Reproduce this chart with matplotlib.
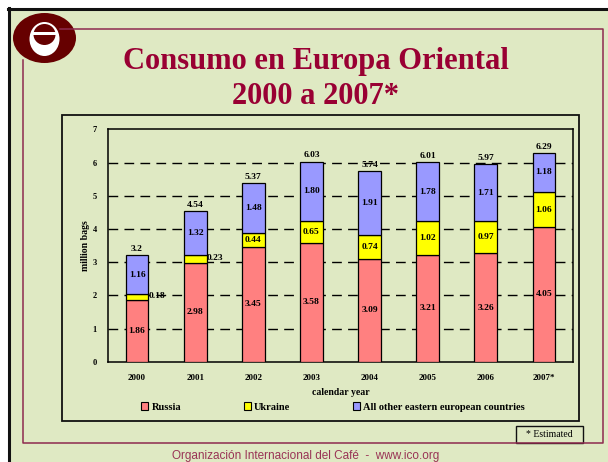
import numpy as np
import matplotlib
matplotlib.use("Agg")
import matplotlib.pyplot as plt
from matplotlib.patches import Rectangle, Ellipse

# data (million bags)
years = ["2000", "2001", "2002", "2003", "2004", "2005", "2006", "2007*"]
russia = [1.86, 2.98, 3.45, 3.58, 3.09, 3.21, 3.26, 4.05]
ukraine = [0.18, 0.23, 0.44, 0.65, 0.74, 1.02, 0.97, 1.06]
others = [1.16, 1.32, 1.48, 1.80, 1.91, 1.78, 1.71, 1.18]
totals = [3.2, 4.54, 5.37, 6.03, 5.74, 6.01, 5.97, 6.29]
series_names = ["Russia", "Ukraine", "All other eastern european countries"]

W, H = 608, 462
bg = "#DFE9C3"
maroon = "#8E2A4E"
serif = "Liberation Serif"

plt.rcParams["font.family"] = serif

fig = plt.figure(figsize=(W / 100, H / 100), dpi=100, facecolor="white")

# overlay in pixel coords for the slide decoration
deco = fig.add_axes([0, 0, 1, 1], zorder=0)
deco.set_xlim(0, W)
deco.set_ylim(H, 0)
deco.axis("off")

deco.add_patch(Rectangle((8, 8), W - 8, H - 8, facecolor=bg, edgecolor="none"))
deco.plot([9, 9], [8, H], color="#111111", lw=2.2)
deco.plot([8, W], [8.5, 8.5], color="#111111", lw=2.2)

# maroon frame
deco.plot([60, 603, 603, 23, 23], [29, 29, 443, 443, 60], color=maroon, lw=1.1)

# logo
deco.add_patch(Ellipse((44.5, 38), 63, 50, facecolor="#660000", edgecolor="none"))
deco.add_patch(Ellipse((44.5, 39), 30, 34, facecolor="white", edgecolor="none"))
deco.add_patch(Ellipse((44.5, 34.5), 22, 21, facecolor="#660000", edgecolor="none"))
deco.add_patch(Rectangle((32, 32.3), 25, 2.2, facecolor="white", edgecolor="none"))

# title
deco.text(316, 62, "Consumo en Europa Oriental", ha="center", va="center",
          fontsize=22, fontweight="bold", color="#990033")
deco.text(316, 97, "2000 a 2007*", ha="center", va="center",
          fontsize=22, fontweight="bold", color="#990033")

# chart box
deco.add_patch(Rectangle((62, 115), 517, 306, facecolor=bg, edgecolor="#111111", lw=1.3))

# estimated note
deco.add_patch(Rectangle((516, 426), 67, 17, facecolor=bg, edgecolor="#111111", lw=1.0))
deco.text(549.5, 434.5, "* Estimated", ha="center", va="center", fontsize=7)

# footer
deco.text(306, 456, "Organización Internacional del Café  -  www.ico.org", ha="center",
          va="center", fontsize=8.5, color="#993355", family="Liberation Sans")

# main chart axes
x0, x1, ytop, ybot = 108, 573, 129.3, 361.7
ax = fig.add_axes([x0 / W, 1 - ybot / H, (x1 - x0) / W, (ybot - ytop) / H], zorder=2)
ax.set_facecolor("none")

x = np.arange(len(years))
bw = 0.39
r = np.array(russia)
u = np.array(ukraine)
o = np.array(others)
colors = ["#FF8080", "#FFFF00", "#9999FF"]

ax.bar(x, r, bw, color=colors[0], edgecolor="black", lw=0.9, zorder=3)
ax.bar(x, u, bw, bottom=r, color=colors[1], edgecolor="black", lw=0.9, zorder=3)
ax.bar(x, o, bw, bottom=r + u, color=colors[2], edgecolor="black", lw=0.9, zorder=3)

lab = dict(fontsize=6.8, fontweight="bold", ha="center", va="center", zorder=5)
for i in range(len(years)):
    ax.text(x[i], r[i] / 2, f"{r[i]:.2f}", **lab)
    if u[i] < 0.3:
        ax.text(x[i] + bw / 2 + 0.01, r[i] + u[i] / 2 + 0.03, f"{u[i]:.2f}",
                fontsize=6.8, fontweight="bold", ha="left", va="center", zorder=5)
    else:
        ax.text(x[i], r[i] + u[i] / 2, f"{u[i]:.2f}", **lab)
    ax.text(x[i], r[i] + u[i] + o[i] / 2, f"{o[i]:.2f}", **lab)
    ax.annotate(f"{totals[i]:g}", (x[i], r[i] + u[i] + o[i]), xytext=(0, 1.5),
                textcoords="offset points", ha="center", va="bottom",
                fontsize=6.8, fontweight="bold", zorder=5)

ax.set_xlim(-0.5, len(years) - 0.5)
ax.set_ylim(0, 7)
ax.set_yticks(range(8))
ax.set_xticks(x)
ax.set_xticklabels(years)
ax.tick_params(axis="y", length=0, pad=8, labelsize=6)
ax.tick_params(axis="x", length=0, pad=9, labelsize=6.5)
for t in ax.get_xticklabels() + ax.get_yticklabels():
    t.set_fontweight("bold")

for yv in range(1, 7):
    ax.axhline(yv, color="black", lw=1.0, ls=(0, (7, 4.5)), zorder=1)

for s in ax.spines.values():
    s.set_color("black")
    s.set_linewidth(1.1)

ax.set_ylabel("million bags", fontsize=7, fontweight="bold", labelpad=2)
ax.set_xlabel("calendar year", fontsize=7, fontweight="bold", labelpad=4)

handles = [Rectangle((0, 0), 1, 1, facecolor=c, edgecolor="black", lw=0.8) for c in colors]
fig.legend(handles, series_names, ncol=3, loc="center",
           bbox_to_anchor=(333 / W, 1 - 407 / H), frameon=False,
           prop={"size": 7.5, "weight": "bold", "family": serif},
           handlelength=0.7, handleheight=0.7, handletextpad=0.3, columnspacing=6.0)

fig.savefig("out.png", dpi=100, facecolor="white")
